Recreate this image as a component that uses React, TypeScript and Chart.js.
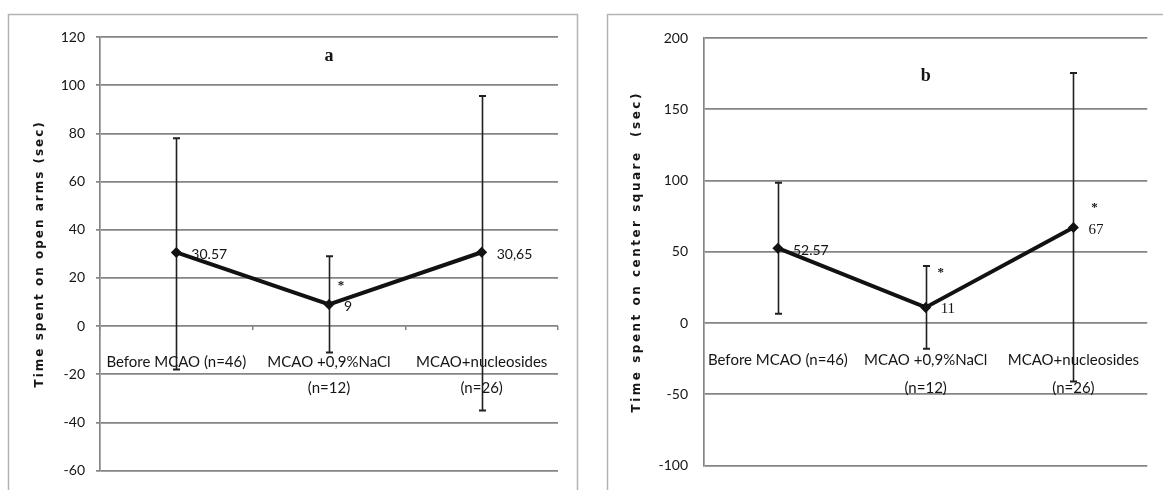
import React, { useEffect, useRef } from 'react';
import { Chart, registerables } from 'chart.js';

Chart.register(...registerables);

// ---------- data ----------
const categories: (string | string[])[] = [
  'Before MCAO (n=46)',
  ['MCAO +0,9%NaCl', '(n=12)'],
  ['MCAO+nucleosides', '(n=26)'],
];

// panel a: time spent on open arms (sec)
const openArmsMean = [30.57, 9, 30.65];
const openArmsHigh = [78, 29, 95.5];
const openArmsLow = [-18, -11, -35];
const openArmsLabels = ['30.57', '9', '30,65'];
const openArmsSig = [false, true, false];
const openArmsTicks = [-60, 120, 20]; // min, max, step

// panel b: time spent on center square (sec)
const centerMean = [52.57, 11, 67];
const centerHigh = [98.5, 40, 175.5];
const centerLow = [6.5, -18, -41];
const centerLabels = ['52.57', '11', '67'];
const centerSig = [false, true, true];
const centerTicks = [-100, 200, 50];

// ---------- styling ----------
const GRID = '#858585';
const TEXT = '#151515';
const SANS = 'Lato, "Open Sans", sans-serif';
const SERIF = '"Liberation Serif", "DejaVu Serif", serif';

const decorPlugin = {
  id: 'decor',
  beforeDraw(chart: any, _a: any, o: any) {
    const ctx = chart.ctx;
    ctx.save();
    ctx.strokeStyle = '#b3b3b3';
    ctx.lineWidth = 1.5;
    ctx.strokeRect(o.frame[0], o.frame[1], o.frame[2], o.frame[3]);
    ctx.restore();
    ctx.letterSpacing = o.titleSpacing;
  },
  beforeDatasetsDraw(chart: any, _a: any, o: any) {
    const ctx = chart.ctx;
    ctx.letterSpacing = '0px';
    const xs = chart.scales.x;
    const ys = chart.scales.y;
    ctx.save();
    ctx.strokeStyle = '#202020';
    o.low.forEach((lo: number, i: number) => {
      const px = Math.round(xs.getPixelForValue(i)) + 0.5;
      const yl = ys.getPixelForValue(lo);
      const yh = ys.getPixelForValue(o.high[i]);
      ctx.lineWidth = 1.6;
      ctx.beginPath();
      ctx.moveTo(px, yl);
      ctx.lineTo(px, yh);
      ctx.stroke();
      ctx.lineWidth = 2;
      ctx.beginPath();
      ctx.moveTo(px - 3.5, yl);
      ctx.lineTo(px + 3.5, yl);
      ctx.moveTo(px - 3.5, yh);
      ctx.lineTo(px + 3.5, yh);
      ctx.stroke();
    });
    ctx.restore();
  },
  afterDatasetsDraw(chart: any, _a: any, o: any) {
    const ctx = chart.ctx;
    const pts = chart.getDatasetMeta(0).data;
    ctx.save();
    ctx.fillStyle = TEXT;
    ctx.textAlign = 'left';
    ctx.textBaseline = 'middle';
    o.labels.forEach((t: string, i: number) => {
      ctx.font = o.labelFonts[i];
      ctx.fillText(t, pts[i].x + 15, pts[i].y + 2);
    });
    // significance asterisks
    ctx.font = 'bold 13px ' + SERIF;
    ctx.textAlign = 'center';
    ctx.textBaseline = 'alphabetic';
    o.sig.forEach((s: boolean, i: number) => {
      if (!s) return;
      const m = ctx.measureText('*');
      const cy = pts[i].y + o.starOffsets[i][1];
      const base = cy + (m.actualBoundingBoxAscent - m.actualBoundingBoxDescent) / 2;
      ctx.fillText('*', pts[i].x + o.starOffsets[i][0], base);
    });
    // panel letter
    const ca = chart.chartArea;
    ctx.font = 'bold 18px ' + SERIF;
    ctx.fillText(o.letter, (ca.left + ca.right) / 2, ca.top + o.letterDy);
    ctx.restore();
  },
};

function makeConfig(p: any) {
  return {
    type: 'line',
    data: {
      labels: categories,
      datasets: [
        {
          data: p.mean,
          borderColor: '#121212',
          backgroundColor: '#121212',
          borderWidth: 4,
          pointStyle: 'rectRot',
          pointRadius: 5.5,
          pointBorderWidth: 0,
          tension: 0,
        },
      ],
    },
    options: {
      responsive: false,
      animation: false,
      events: [],
      layout: { padding: p.padding },
      plugins: {
        legend: { display: false },
        tooltip: { enabled: false },
        decor: {
          frame: p.frame,
          titleSpacing: p.titleSpacing,
          low: p.low,
          high: p.high,
          labels: p.labels,
          labelFonts: p.labelFonts,
          sig: p.sig,
          starOffsets: p.starOffsets,
          letter: p.letter,
          letterDy: p.letterDy,
        },
      },
      scales: {
        x: {
          type: 'category',
          position: { y: 0 },
          offset: true,
          grid: {
            display: p.xTicks,
            offset: true,
            drawOnChartArea: false,
            drawTicks: p.xTicks,
            tickLength: 4,
            color: GRID,
            lineWidth: 1.5,
          },
          border: { display: false },
          ticks: {
            z: 1,
            autoSkip: false,
            maxRotation: 0,
            padding: p.xPad,
            color: TEXT,
            font: { family: SANS, size: 15, lineHeight: p.xLine },
          },
        },
        y: {
          min: p.ticks[0],
          max: p.ticks[1],
          afterFit: (s: any) => {
            s.width = p.yWidth;
          },
          grid: {
            color: GRID,
            lineWidth: 1.7,
            drawTicks: p.yTicks,
            tickLength: 4,
          },
          border: { display: true, color: GRID, width: 1.7 },
          ticks: {
            z: 1,
            stepSize: p.ticks[2],
            padding: p.yPad,
            color: TEXT,
            font: { family: SANS, size: 14 },
          },
          title: {
            display: true,
            text: p.title,
            color: TEXT,
            font: { family: '"DejaVu Sans", sans-serif', size: 12, weight: 'bold' },
            padding: { top: p.titlePad, bottom: 0 },
          },
        },
      },
    },
    plugins: [decorPlugin],
  };
}

export default function App() {
  const leftRef = useRef<HTMLCanvasElement>(null);
  const rightRef = useRef<HTMLCanvasElement>(null);

  useEffect(() => {
    const a = new Chart(
      leftRef.current as HTMLCanvasElement,
      makeConfig({
        mean: openArmsMean,
        high: openArmsHigh,
        low: openArmsLow,
        labels: openArmsLabels,
        labelFonts: ['14px ' + SANS, '14px ' + SANS, '14px ' + SANS],
        sig: openArmsSig,
        starOffsets: [[0, 0], [12, -21], [0, 0]],
        ticks: openArmsTicks,
        title: 'Time spent on open arms (sec)',
        letter: 'a',
        letterDy: 24,
        padding: { left: 0, right: 32, top: 37, bottom: 19 },
        frame: [8.5, 14.5, 569, 520],
        titleSpacing: '2px',
        yWidth: 100,
        yPad: 11,
        yTicks: true,
        xTicks: true,
        xPad: 19,
        xLine: 26 / 15,
        titlePad: 33,
      }) as any
    );
    const b = new Chart(
      rightRef.current as HTMLCanvasElement,
      makeConfig({
        mean: centerMean,
        high: centerHigh,
        low: centerLow,
        labels: centerLabels,
        labelFonts: ['14px ' + SANS, '15px ' + SERIF, '15px ' + SERIF],
        sig: centerSig,
        starOffsets: [[0, 0], [15, -37], [21, -22]],
        ticks: centerTicks,
        title: 'Time spent on center square  (sec)',
        letter: 'b',
        letterDy: 43,
        padding: { left: 0, right: 5, top: 38, bottom: 20 },
        frame: [17.5, 14.5, 600, 520],
        titleSpacing: '2.5px',
        yWidth: 114,
        yPad: 16,
        yTicks: false,
        xTicks: false,
        xPad: 23,
        xLine: 28 / 15,
        titlePad: 40,
      }) as any
    );
    return () => {
      a.destroy();
      b.destroy();
    };
  }, []);

  return (
    <div style={{ position: 'fixed', left: 0, top: 0, width: 1163, height: 490, background: '#fff' }}>
      <canvas ref={leftRef} width={590} height={490} style={{ position: 'absolute', left: 0, top: 0 }} />
      <canvas ref={rightRef} width={573} height={490} style={{ position: 'absolute', left: 590, top: 0 }} />
    </div>
  );
}
